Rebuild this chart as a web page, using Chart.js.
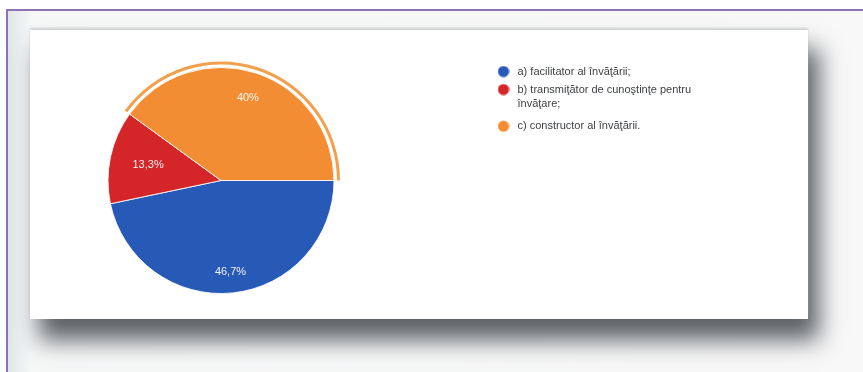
<!DOCTYPE html>
<html lang="ro">
<head>
<meta charset="utf-8">
<title>Rolul profesorului</title>
<script src="https://cdn.jsdelivr.net/npm/chart.js@4"></script>
<style>
  html, body { margin: 0; padding: 0; background: #ffffff; }
  body { width: 863px; height: 372px; position: relative; overflow: hidden; }
  .frame {
    position: absolute; left: 6px; top: 9px; width: 870px; height: 361px;
    border-left: 2px solid #8c73b6; border-top: 2px solid #8c73b6;
    border-bottom: 1px solid #efe4f0;
    background: linear-gradient(90deg, #dfe6e5 0px, #eef1f1 14px, #f6f7f7 24px, #f8f8f8 100%);
  }
  .card {
    position: absolute; left: 30px; top: 30px; width: 778px; height: 289px;
    background: #ffffff;
    box-shadow: 0 -2px 2px rgba(170,175,178,0.5), 10px 20px 22px 1px rgba(84,90,94,0.95);
  }
  .card canvas { position: absolute; left: 0; top: 0; }
</style>
</head>
<body>
<div class="frame"></div>
<div class="card">
  <canvas id="chart" width="778" height="289"></canvas>
</div>
<script>
// Answer options (the second one wraps onto two lines in the legend)
const categories = [
  'a) facilitator al învăţării;',
  ['b) transmiţător de cunoştinţe pentru', 'învăţare;'],
  'c) constructor al învăţării.'
];
// Share of respondents, in percent
const percentages = [46.7, 13.3, 40];
const sliceColors = ['#2759b6', '#d42528', '#f38d33'];
const ringColors = ['rgba(0,0,0,0)', 'rgba(0,0,0,0)', '#f2a04e'];

// Distance of each value label from the centre, as a fraction of the radius
const labelRadius = [0.81, 0.66, 0.77];

const fmt = v => String(v).replace('.', ',') + '%';

// Legend placement inside the canvas
const LEGEND_LEFT = 458;
const LEGEND_TOP = 29;
const LEGEND_WIDTH = 300;

// Round legend markers, drawn once per colour
function dot(color) {
  const c = document.createElement('canvas');
  c.width = 12; c.height = 12;
  const g = c.getContext('2d');
  g.fillStyle = color;
  g.beginPath();
  g.arc(6, 6, 5.6, 0, Math.PI * 2);
  g.fill();
  return c;
}
const legendDots = sliceColors.map(dot);

const legendPlacement = {
  id: 'legendPlacement',
  beforeInit(chart) {
    const legend = chart.legend;
    const fit = legend.fit;
    legend.fit = function () {
      fit.call(this);
      this.width = LEGEND_WIDTH;
    };
  },
  afterLayout(chart) {
    const lg = chart.legend;
    const dx = LEGEND_LEFT - lg.left;
    const dy = LEGEND_TOP - lg.top;
    lg.left += dx; lg.right += dx;
    lg.top += dy; lg.bottom += dy;
  }
};

const sliceLabels = {
  id: 'sliceLabels',
  afterDatasetsDraw(chart) {
    const meta = chart.getDatasetMeta(2);
    const ctx = chart.ctx;
    ctx.save();
    ctx.font = '11px "Liberation Sans", Arial, sans-serif';
    ctx.fillStyle = 'rgba(255,255,255,0.93)';
    ctx.textAlign = 'center';
    ctx.textBaseline = 'middle';
    meta.data.forEach((arc, i) => {
      const p = arc.getProps(['x', 'y', 'startAngle', 'endAngle', 'outerRadius'], true);
      const mid = (p.startAngle + p.endAngle) / 2;
      const r = p.outerRadius * labelRadius[i];
      ctx.fillText(fmt(percentages[i]), p.x + Math.cos(mid) * r, p.y + Math.sin(mid) * r);
    });
    ctx.restore();
  }
};

new Chart(document.getElementById('chart'), {
  type: 'pie',
  data: {
    labels: categories,
    datasets: [
      { // highlight ring around the largest-answer group
        data: percentages,
        backgroundColor: ringColors,
        borderWidth: 0,
        weight: 3
      },
      { // thin white gap between ring and pie
        data: percentages,
        backgroundColor: 'rgba(0,0,0,0)',
        borderWidth: 0,
        weight: 3
      },
      {
        data: percentages,
        backgroundColor: sliceColors,
        borderColor: 'rgba(255,255,255,0.85)',
        borderWidth: 1,
        weight: 113
      }
    ]
  },
  options: {
    responsive: false,
    animation: false,
    events: [],
    rotation: 90,
    hoverOffset: 0,
    layout: { padding: { left: 72, top: 31, right: 168, bottom: 19 } },
    plugins: {
      tooltip: { enabled: false },
      legend: {
        position: 'right',
        align: 'start',
        labels: {
          usePointStyle: true,
          pointStyleWidth: 17,
          boxHeight: 11,
          padding: 7,
          color: '#3f4245',
          font: { family: '"Liberation Sans", Arial, sans-serif', size: 11, lineHeight: 1.35 },
          generateLabels(chart) {
            const base = Chart.overrides.doughnut.plugins.legend.labels.generateLabels(chart);
            return base.map((item, i) => Object.assign(item, {
              fillStyle: sliceColors[i],
              strokeStyle: sliceColors[i],
              lineWidth: 0,
              pointStyle: legendDots[i]
            }));
          }
        }
      }
    }
  },
  plugins: [legendPlacement, sliceLabels]
});
</script>
</body>
</html>
